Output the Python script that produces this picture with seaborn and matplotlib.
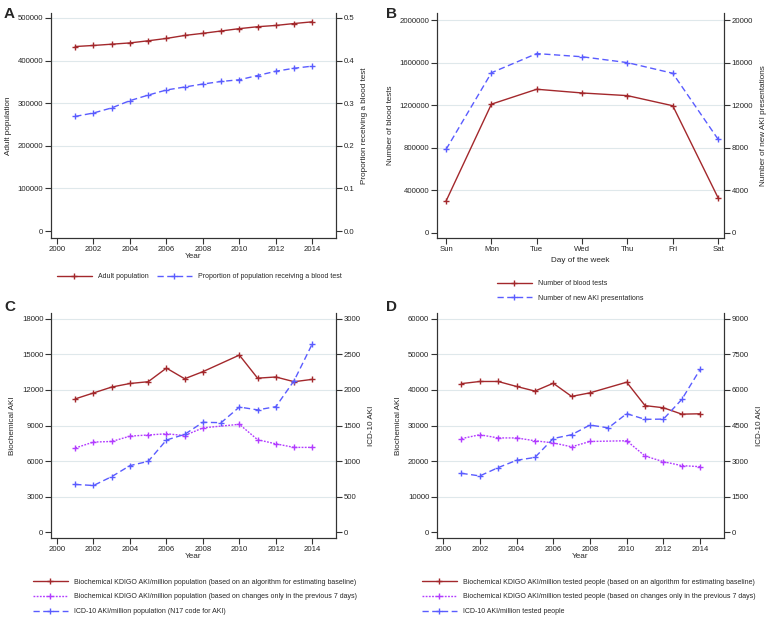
import pandas as pd
import seaborn as sns
import matplotlib.pyplot as plt
from matplotlib.lines import Line2D
from matplotlib.ticker import FormatStrFormatter, ScalarFormatter

# ---- data ----
years = [2001, 2002, 2003, 2004, 2005, 2006, 2007, 2008, 2009, 2010, 2011, 2012, 2013, 2014]
years_bio = [2001, 2002, 2003, 2004, 2005, 2006, 2007, 2008, 2010, 2011, 2012, 2013, 2014]

adult_pop = [433000, 435500, 438500, 441500, 446500, 452000, 459000, 464000, 469500,
             475000, 479500, 482500, 487000, 491000]
prop_tested = [0.269, 0.277, 0.289, 0.306, 0.319, 0.331, 0.338, 0.345, 0.351,
               0.355, 0.365, 0.375, 0.382, 0.387]

days = ['Sun', 'Mon', 'Tue', 'Wed', 'Thu', 'Fri', 'Sat']
blood_tests = [300000, 1210000, 1350000, 1315000, 1290000, 1195000, 330000]
new_aki = [7850, 15050, 16850, 16550, 16000, 15000, 8800]

c_kdigo_alg = [11250, 11750, 12250, 12550, 12700, 13850, 12950, 13550, 14950, 13000, 13100, 12700, 12900]
c_kdigo_7d = [7100, 7600, 7650, 8100, 8200, 8300, 8150, 8800, 9100, 7800, 7450, 7150, 7150]
c_icd10 = [670, 655, 780, 935, 995, 1295, 1375, 1545, 1540, 1760, 1720, 1765, 2130, 2650]

d_kdigo_alg = [41800, 42400, 42400, 41000, 39700, 41900, 38200, 39200, 42200, 35600, 35000, 33200, 33300]
d_kdigo_7d = [26300, 27400, 26500, 26500, 25700, 25100, 24000, 25500, 25700, 21400, 19800, 18700, 18400]
d_icd10 = [2480, 2370, 2720, 3030, 3150, 3950, 4110, 4520, 4400, 5000, 4760, 4770, 5600, 6870]

RED = '#a3282c'
BLUE = '#5a5cff'
MAG = '#b23cff'
GRID = '#dfe8eb'
SOLID = '-'
DOT = (0, (1.3, 1.0))
DASH = (0, (4.5, 2.5))
FS = 5.6
MS = 4.5

sns.set_style('white')
plt.rcParams['font.family'] = ['Liberation Sans', 'DejaVu Sans']
plt.rcParams['font.size'] = FS

fig = plt.figure(figsize=(7.67, 6.17), dpi=100)
W, H = 767, 617


def make_axes(x0, x1, y0, y1):
    ax = fig.add_axes([x0 / W, 1 - y1 / H, (x1 - x0) / W, (y1 - y0) / H])
    ax2 = ax.twinx()
    return ax, ax2


def draw(ax, x, y, color, ls):
    sns.lineplot(x=x, y=y, ax=ax, color=color, linestyle=ls, linewidth=1,
                 marker='+', markersize=MS, markeredgewidth=1, markeredgecolor=color,
                 legend=False)


def style(ax, ax2, ylim, yticks, ylim2, yticks2, ylabel, ylabel2):
    ax.set_ylim(*ylim)
    ax.set_yticks(yticks)
    ax2.set_ylim(*ylim2)
    ax2.set_yticks(yticks2)
    for t in yticks[1:]:
        ax.axhline(t, color=GRID, lw=0.8, zorder=0)
    for a in (ax, ax2):
        a.spines['top'].set_visible(False)
        for s in ('left', 'right', 'bottom'):
            a.spines[s].set_color('#333333')
            a.spines[s].set_linewidth(0.8)
        a.tick_params(length=4, width=0.8, pad=1.5, color='#333333', labelsize=FS)
    ax.tick_params(axis='y', left=True, right=False)
    ax2.tick_params(axis='y', right=True)
    ax.tick_params(axis='x', bottom=True)
    fmt = ScalarFormatter(useOffset=False)
    fmt.set_scientific(False)
    ax.yaxis.set_major_formatter(fmt)
    ax.set_ylabel(ylabel, fontsize=FS + 0.3, labelpad=4)
    ax2.set_ylabel(ylabel2, fontsize=FS + 0.3, labelpad=5)


def legend(handles, labels, x, y, ncol=1):
    fig.legend(handles, labels, loc='center left', bbox_to_anchor=(x / W, 1 - y / H),
               ncol=ncol, frameon=False, fontsize=5.0, borderpad=0, borderaxespad=0,
               handlelength=5.0, handletextpad=0.9, labelspacing=1.1, columnspacing=1.2)


def handle(color, ls):
    return Line2D([0, 0.5, 1], [0, 0, 0], color=color, linestyle=ls, linewidth=1,
                  marker='+', markersize=MS, markeredgewidth=1, markevery=[1])


# ---- Panel A ----
ax, ax2 = make_axes(51, 336, 13, 238)
draw(ax, years, adult_pop, RED, SOLID)
draw(ax2, years, prop_tested, BLUE, DASH)
style(ax, ax2, (-16400, 511700), [0, 100000, 200000, 300000, 400000, 500000],
      (-0.0164, 0.5117), [0, 0.1, 0.2, 0.3, 0.4, 0.5],
      'Adult population', 'Proportion receiving a blood test')
ax2.yaxis.set_major_formatter(FormatStrFormatter('%.1f'))
ax.set_xlim(1999.67, 2015.3)
ax.set_xticks(range(2000, 2015, 2))
ax.set_xlabel('Year', fontsize=FS + 0.3, labelpad=0)
legend([handle(RED, SOLID), handle(BLUE, DASH)],
       ['Adult population', 'Proportion of population receiving a blood test'], 57, 277, ncol=2)

# ---- Panel B ----
ax, ax2 = make_axes(437, 724, 13, 238)
draw(ax, days, blood_tests, RED, SOLID)
draw(ax2, days, new_aki, BLUE, DASH)
style(ax, ax2, (-47000, 2066000), [0, 400000, 800000, 1200000, 1600000, 2000000],
      (-470, 20660), [0, 4000, 8000, 12000, 16000, 20000],
      'Number of blood tests', 'Number of new AKI presentations')
ax.set_xlim(-0.2, 6.13)
ax.set_xlabel('Day of the week', fontsize=FS + 0.3, labelpad=3)
legend([handle(RED, SOLID), handle(BLUE, DASH)],
       ['Number of blood tests', 'Number of new AKI presentations'], 497, 291)

# ---- Panel C ----
ax, ax2 = make_axes(51, 336, 313, 538)
draw(ax, years_bio, c_kdigo_alg, RED, SOLID)
draw(ax, years_bio, c_kdigo_7d, MAG, DOT)
draw(ax2, years, c_icd10, BLUE, DASH)
style(ax, ax2, (-507, 18507), [0, 3000, 6000, 9000, 12000, 15000, 18000],
      (-84.5, 3084.5), [0, 500, 1000, 1500, 2000, 2500, 3000],
      'Biochemical AKI', 'ICD-10 AKI')
ax.set_xlim(1999.67, 2015.3)
ax.set_xticks(range(2000, 2015, 2))
ax.set_xlabel('Year', fontsize=FS + 0.3, labelpad=0)
legend([handle(RED, SOLID), handle(MAG, DOT), handle(BLUE, DASH)],
       ['Biochemical KDIGO AKI/million population (based on an algorithm for estimating baseline)',
        'Biochemical KDIGO AKI/million population (based on changes only in the previous 7 days)',
        'ICD-10 AKI/million population (N17 code for AKI)'], 33, 597)

# ---- Panel D ----
ax, ax2 = make_axes(437, 724, 313, 538)
draw(ax, years_bio, d_kdigo_alg, RED, SOLID)
draw(ax, years_bio, d_kdigo_7d, MAG, DOT)
draw(ax2, years, d_icd10, BLUE, DASH)
style(ax, ax2, (-1690, 61690), [0, 10000, 20000, 30000, 40000, 50000, 60000],
      (-253.5, 9253.5), [0, 1500, 3000, 4500, 6000, 7500, 9000],
      'Biochemical AKI', 'ICD-10 AKI')
ax.set_xlim(1999.67, 2015.3)
ax.set_xticks(range(2000, 2015, 2))
ax.set_xlabel('Year', fontsize=FS + 0.3, labelpad=0)
legend([handle(RED, SOLID), handle(MAG, DOT), handle(BLUE, DASH)],
       ['Biochemical KDIGO AKI/million tested people (based on an algorithm for estimating baseline)',
        'Biochemical KDIGO AKI/million tested people (based on changes only in the previous 7 days)',
        'ICD-10 AKI/million tested people'], 422, 597)

# panel letters
for letter, x, y in [('A', 4, 14), ('B', 386, 14), ('C', 4, 307), ('D', 386, 307)]:
    fig.text(x / W, 1 - y / H, letter, fontsize=11, fontweight='bold', va='center', ha='left')

fig.savefig('out.png', dpi=100)
